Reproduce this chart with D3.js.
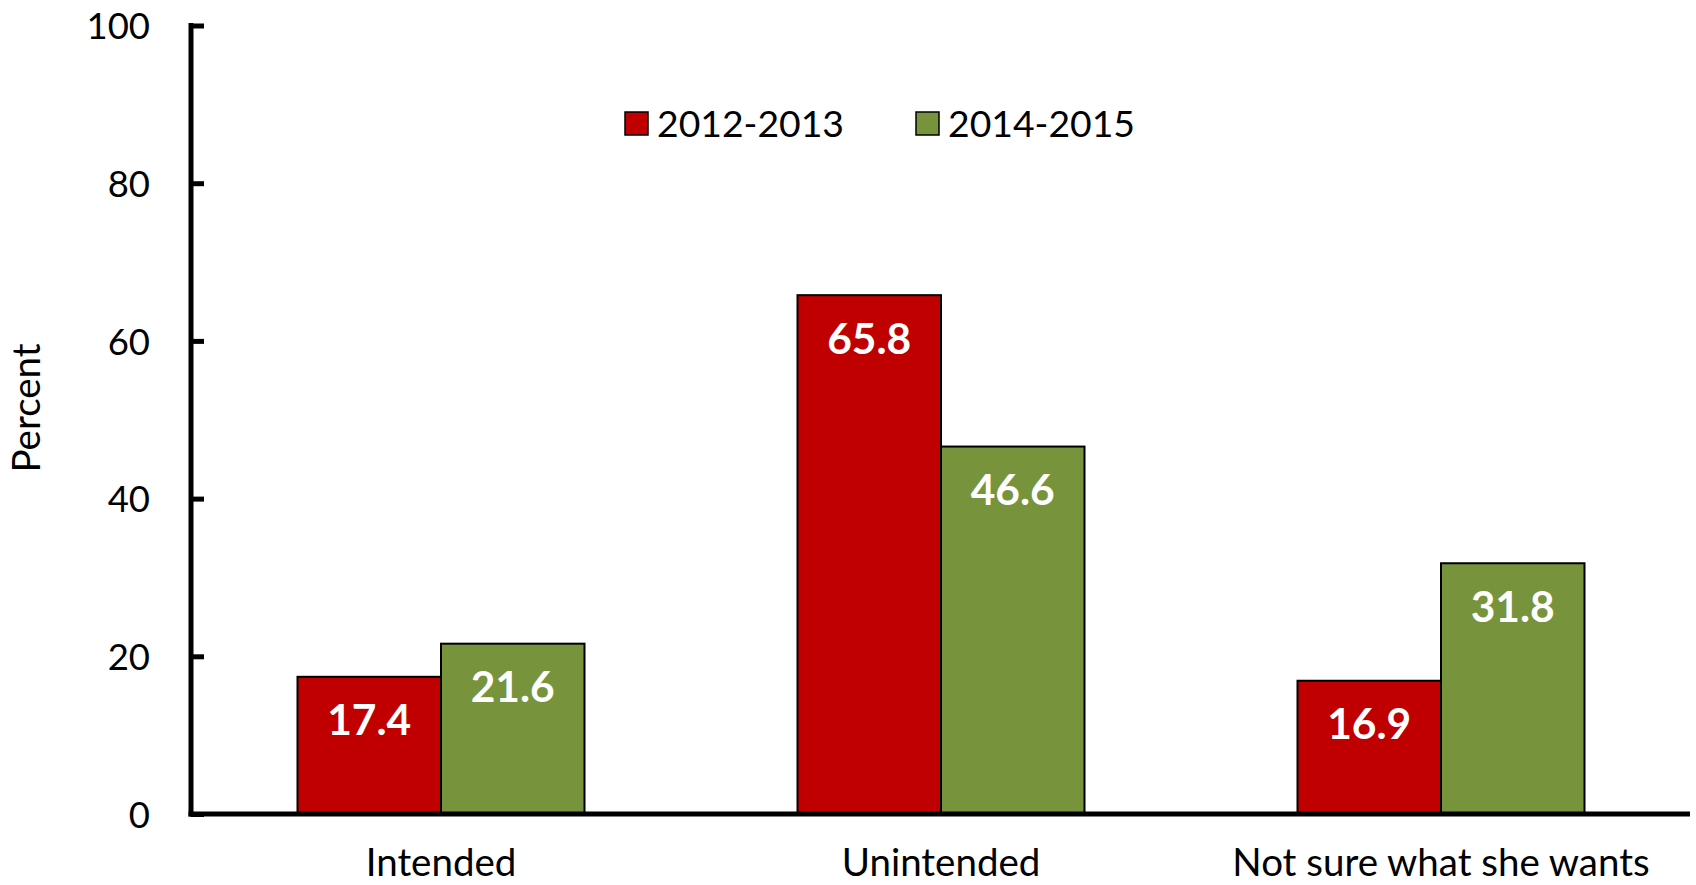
<!DOCTYPE html>
<html><head><meta charset="utf-8">
<script src="https://cdn.jsdelivr.net/npm/d3@7"></script>
<style>body{margin:0;background:#fff}svg{display:block}text{font-family:Lato,"Open Sans",sans-serif}</style>
</head><body>
<svg id="c" width="1696" height="885"></svg>
<script>
const categories = ["Intended", "Unintended", "Not sure what she wants"];
const seriesNames = ["2012-2013", "2014-2015"];
const values2012 = [17.4, 65.8, 16.9];
const values2014 = [21.6, 46.6, 31.8];
const seriesColors = ["#C00000", "#77933C"];
const yTicks = [0, 20, 40, 60, 80, 100];

(function () {
const svg = d3.select("#c");
const mLeft = 191, mRight = 1691, mTop = 25.5, mBottom = 814;
const y = d3.scaleLinear().domain([0, 100]).range([mBottom, mTop]);
const x0 = d3.scaleBand().domain(categories).range([mLeft, mRight]).paddingInner(0.426).paddingOuter(0.213);
const x1 = d3.scaleBand().domain(seriesNames).range([0, x0.bandwidth()]);
const series = [values2012, values2014];

const data = categories.map((c, i) => ({c, vals: seriesNames.map((s, j) => ({s, j, v: series[j][i]}))}));

const g = svg.append("g").selectAll("g").data(data).join("g")
  .attr("transform", d => `translate(${x0(d.c)},0)`);
g.selectAll("rect").data(d => d.vals).join("rect")
  .attr("x", d => x1(d.s)).attr("width", x1.bandwidth())
  .attr("y", d => y(d.v)).attr("height", d => y(0) - y(d.v))
  .attr("fill", d => seriesColors[d.j]).attr("stroke", "#000").attr("stroke-width", 2);
g.selectAll("text").data(d => d.vals).join("text")
  .attr("x", d => x1(d.s) + x1.bandwidth() / 2)
  .attr("y", d => y(d.v) + 58.5)
  .attr("text-anchor", "middle").attr("fill", "#fff")
  .attr("font-weight", "bold").attr("font-size", 42.5)
  .text(d => d.v.toFixed(1));

// y axis
const ya = svg.append("g").attr("transform", `translate(${mLeft},0)`)
  .call(d3.axisRight(y).tickValues(yTicks).tickSize(13).tickFormat(d3.format("d")));
ya.select(".domain").remove();
ya.selectAll(".tick line").attr("stroke", "#000").attr("stroke-width", 5);
ya.selectAll(".tick text").attr("x", -41).attr("text-anchor", "end").attr("dy", "0.36em")
  .attr("font-size", 36.5).attr("fill", "#000");
svg.append("line").attr("x1", mLeft).attr("x2", mLeft).attr("y1", mTop - 2.5).attr("y2", mBottom + 2.5)
  .attr("stroke", "#000").attr("stroke-width", 5);

// x axis
const xa = svg.append("g").attr("transform", `translate(0,${mBottom})`)
  .call(d3.axisBottom(x0).tickSize(0).tickPadding(0));
xa.select(".domain").remove();
xa.selectAll(".tick text").attr("y", 0).attr("dy", 0).attr("transform", "translate(0,62)")
  .attr("font-size", 38.5).attr("fill", "#000");
svg.append("line").attr("x1", mLeft - 2.5).attr("x2", 1690).attr("y1", mBottom).attr("y2", mBottom)
  .attr("stroke", "#000").attr("stroke-width", 5);

// y title
svg.append("text").attr("transform", "translate(40,408) rotate(-90)")
  .attr("text-anchor", "middle").attr("font-size", 38.5).text("Percent");

// legend
const legendX = [625, 916];
const lg = svg.append("g").selectAll("g").data(seriesNames).join("g")
  .attr("transform", (d, i) => `translate(${legendX[i]},112)`);
lg.append("rect").attr("width", 23).attr("height", 23)
  .attr("fill", (d, i) => seriesColors[i]).attr("stroke", "#000").attr("stroke-width", 1.5);
lg.append("text").attr("x", 32).attr("y", 25).attr("font-size", 37.3).text(d => d);
})();
</script>
</body></html>
